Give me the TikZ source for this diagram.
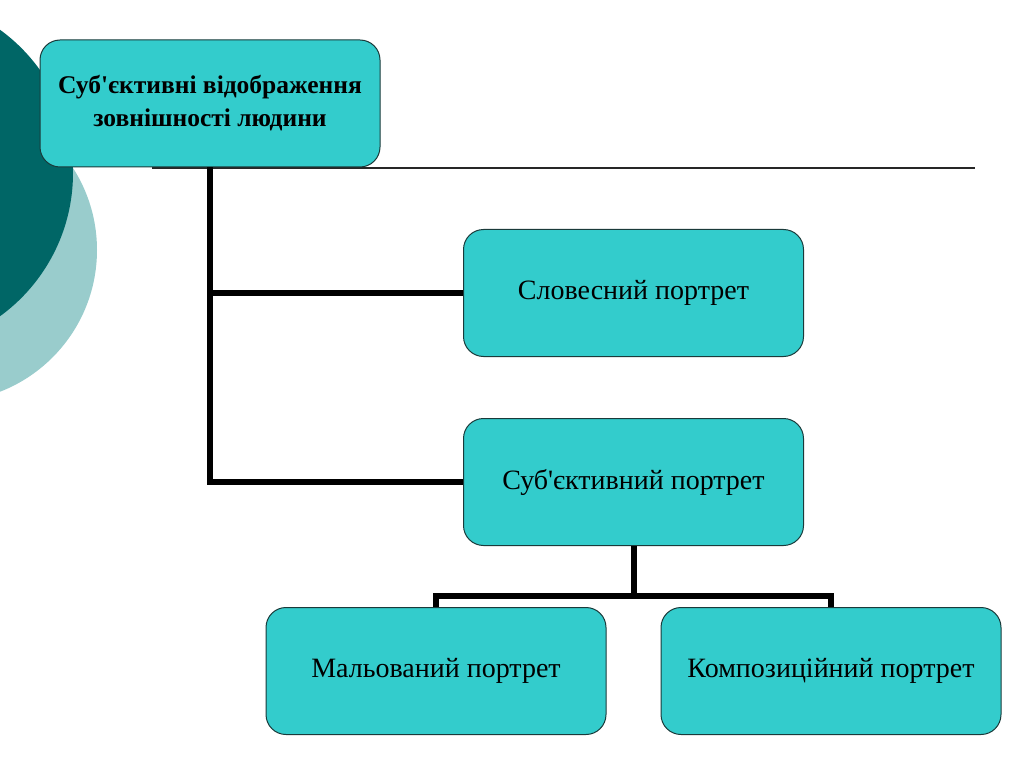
\documentclass[tikz,border=0pt]{standalone}
\usepackage{fontspec}
\setmainfont{Liberation Serif}[Ligatures=TeXOff]
\usetikzlibrary{positioning, calc}
\definecolor{boxFill}{HTML}{33CCCC}
\definecolor{boxStroke}{HTML}{1A3A3A}
\definecolor{darkTeal}{HTML}{006666}
\definecolor{lightTeal}{HTML}{99CCCC}
\tikzset{
  tree/.style = {
    font=\fontsize{28}{32}\selectfont,
  },
  item/.style = {
    rectangle, rounded corners=20pt, draw=boxStroke, line width=1pt,
    fill=boxFill, minimum width=340pt, minimum height=127pt,
    align=center, inner sep=2pt,
  },
  head/.style = {
    item, font=\fontsize{25.5}{33}\selectfont\bfseries,
  },
  conn/.style = {line width=6pt, draw=black, line join=miter},
  rule/.style = {line width=1.5pt, draw=black!85},
}

\begin{document}
\begin{tikzpicture}[tree, x=1pt, y=-1pt]
\useasboundingbox (0,0) rectangle (1024,767);

% side circles
\fill[lightTeal] (-55,250) circle (152);
\fill[darkTeal] (-104,173) circle (177);

\coordinate (r1) at (152,168);
\coordinate (r2) at (975,168);
\draw[rule] (r1) -- (r2);

\node[head] (top)  at (210,103.5) {Суб'єктивні відображення\\зовнішності людини};
\node[item] (slov) at (633.5,293) {Словесний портрет};
\node[item] (subj) at (633.5,482) {Суб'єктивний портрет};
\node[item] (malo) at (436,671)   {Мальований портрет};
\node[item] (komp) at (831,671)   {Композиційний портрет};

\coordinate (split) at (633.5,596);

\draw[conn] (top.south) |- (subj.west);
\draw[conn] (top.south |- slov.west) -- (slov.west);
\draw[conn] (subj.south) -- (split);
\draw[conn] (malo.north) |- (split) -| (komp.north);

\end{tikzpicture}
\end{document}
